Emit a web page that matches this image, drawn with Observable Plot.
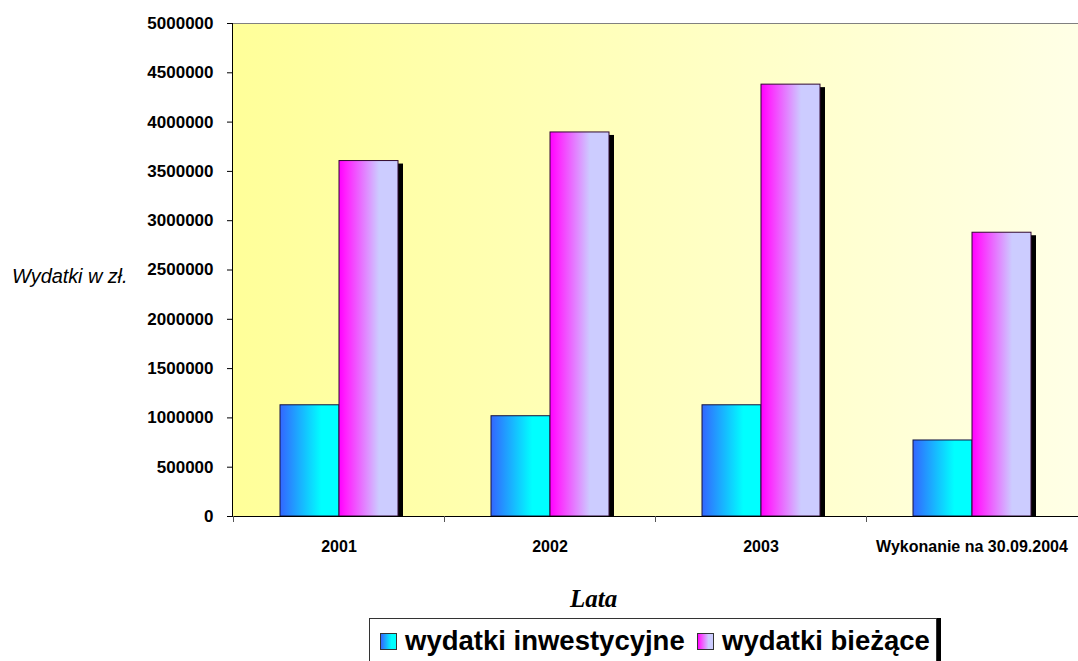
<!DOCTYPE html>
<html>
<head>
<meta charset="utf-8">
<script src="https://cdn.jsdelivr.net/npm/d3@7"></script>
<script src="https://cdn.jsdelivr.net/npm/@observablehq/plot@0.6"></script>
<style>
  html, body { margin: 0; padding: 0; background: #ffffff; }
  #wrap { position: relative; width: 1078px; height: 661px; overflow: hidden; font-family: "Liberation Sans", Arial, sans-serif; }
  #chart svg { display: block; }
  #ylab { position: absolute; left: 12px; top: 266px; font-size: 20px; line-height: 1; font-style: italic; color: #000; white-space: nowrap; letter-spacing: -0.1px; }
  #xlab { position: absolute; left: 570px; top: 586px; font-family: "Liberation Serif", "Times New Roman", serif; font-size: 25px; font-weight: bold; font-style: italic; line-height: 1; color: #000; }
  #legend { position: absolute; left: 369px; top: 618px; width: 566px; height: 60px; border: 1px solid #333; box-shadow: 4px 0 0 #000; background: #fff; }
  #legend .sw { position: absolute; top: 14px; width: 15px; height: 15px; border: 1px solid #333; }
  #legend .tx { position: absolute; top: 8px; font-size: 27.5px; font-weight: bold; line-height: 1; color: #000; white-space: nowrap; }
</style>
</head>
<body>
<div id="wrap">
  <div id="chart"></div>
  <div id="ylab">Wydatki w zł.</div>
  <div id="xlab">Lata</div>
  <div id="legend"></div>
</div>
<script>
// ---- data ----
const categories = ["2001", "2002", "2003", "Wykonanie na 30.09.2004"];
const seriesNames = ["wydatki inwestycyjne", "wydatki bieżące"];
const wydatkiInwestycyjne = [1128000, 1017000, 1128000, 771000];
const wydatkiBiezace = [3605000, 3895000, 4380000, 2878000];
const yTicks = [0, 500000, 1000000, 1500000, 2000000, 2500000, 3000000, 3500000, 4000000, 4500000, 5000000];
const seriesFills = ["url(#gradInv)", "url(#gradBie)"];
const seriesStrokes = ["#141440", "#300830"];
const legendCss = ["linear-gradient(to right,#3366ff,#00ffff 70%)", "linear-gradient(to right,#ff00ff,#ff33ff 15%,#ccccff 70%)"];

const data = [];
categories.forEach((c, i) => {
  data.push({year: c, series: seriesNames[0], value: wydatkiInwestycyjne[i]});
  data.push({year: c, series: seriesNames[1], value: wydatkiBiezace[i]});
});

const chart = Plot.plot({
  width: 1078,
  height: 620,
  marginLeft: 232,
  marginRight: 0,
  marginTop: 23,
  marginBottom: 104,
  style: {background: "transparent", fontFamily: "'Liberation Sans', Arial, sans-serif", color: "#000", overflow: "visible"},
  fx: {domain: categories, padding: 0, label: null, tickSize: 0, tickPadding: 24, axis: "bottom"},
  x: {domain: seriesNames, axis: null, paddingInner: 0, paddingOuter: 0.7625},
  y: {domain: [0, 5000000], ticks: yTicks, tickFormat: d3.format("d"), tickSize: 6, tickPadding: 14, label: null},
  marks: [
    Plot.barY(data, {fx: "year", x: "series", y: "value", fill: "#000", dx: 5, dy: 3, insetBottom: 3}),
    ...seriesNames.map((s, i) =>
      Plot.barY(data.filter(d => d.series === s), {
        fx: "year", x: "series", y: "value",
        fill: seriesFills[i], stroke: seriesStrokes[i], strokeWidth: 1
      })
    )
  ]
});

document.getElementById("chart").appendChild(chart);

// ---- decoration derived from the plot's scales ----
const svg = d3.select(chart);
const fxS = chart.scale("fx");
const yS = chart.scale("y");
const [xL, xR] = fxS.range;
const [yB, yT] = yS.range;

const defs = svg.insert("defs", ":first-child");
const bg = defs.append("linearGradient").attr("id", "gradBg").attr("x1", "0").attr("x2", "1").attr("y1", "0").attr("y2", "0");
bg.append("stop").attr("offset", "0").attr("stop-color", "#ffff99");
bg.append("stop").attr("offset", "1").attr("stop-color", "#ffffe6");
const gi = defs.append("linearGradient").attr("id", "gradInv").attr("x1", "0").attr("x2", "1").attr("y1", "0").attr("y2", "0");
gi.append("stop").attr("offset", "0").attr("stop-color", "#3366ff");
gi.append("stop").attr("offset", "0.7").attr("stop-color", "#00ffff");
gi.append("stop").attr("offset", "1").attr("stop-color", "#00ffff");
const gb = defs.append("linearGradient").attr("id", "gradBie").attr("x1", "0").attr("x2", "1").attr("y1", "0").attr("y2", "0");
gb.append("stop").attr("offset", "0").attr("stop-color", "#ff00ff");
gb.append("stop").attr("offset", "0.12").attr("stop-color", "#ff22ff");
gb.append("stop").attr("offset", "0.68").attr("stop-color", "#ccccff");
gb.append("stop").attr("offset", "1").attr("stop-color", "#ccccff");

svg.insert("rect", "defs + *")
  .attr("x", xL).attr("y", yT).attr("width", xR - xL).attr("height", yB - yT)
  .attr("fill", "url(#gradBg)");

const deco = svg.append("g");
deco.append("line").attr("x1", xL).attr("x2", xR).attr("y1", yT + 0.5).attr("y2", yT + 0.5).attr("stroke", "#808080");
deco.append("line").attr("x1", xL + 0.5).attr("x2", xL + 0.5).attr("y1", yT).attr("y2", yB).attr("stroke", "#000");
deco.append("line").attr("x1", xL).attr("x2", xR).attr("y1", yB + 0.5).attr("y2", yB + 0.5).attr("stroke", "#000");
categories.forEach(c => {
  const x = Math.round(fxS.apply(c)) + 0.5;
  deco.append("line").attr("x1", x).attr("x2", x).attr("y1", yB).attr("y2", yB + 6).attr("stroke", "#555");
});

svg.selectAll('g[aria-label^="y-axis"] text').style("font-size", "17px").style("font-weight", "bold").attr("fill", "#000");
svg.selectAll('g[aria-label^="fx-axis"] text').style("font-size", "16px").style("font-weight", "bold").attr("fill", "#000");

// ---- legend ----
const legend = document.getElementById("legend");
const swLeft = [10, 327];
const txLeft = [35, 352];
seriesNames.forEach((s, i) => {
  const sw = document.createElement("div");
  sw.className = "sw";
  sw.style.left = swLeft[i] + "px";
  sw.style.background = legendCss[i];
  legend.appendChild(sw);
  const tx = document.createElement("div");
  tx.className = "tx";
  tx.style.left = txLeft[i] + "px";
  tx.textContent = s;
  legend.appendChild(tx);
});
</script>
</body>
</html>
